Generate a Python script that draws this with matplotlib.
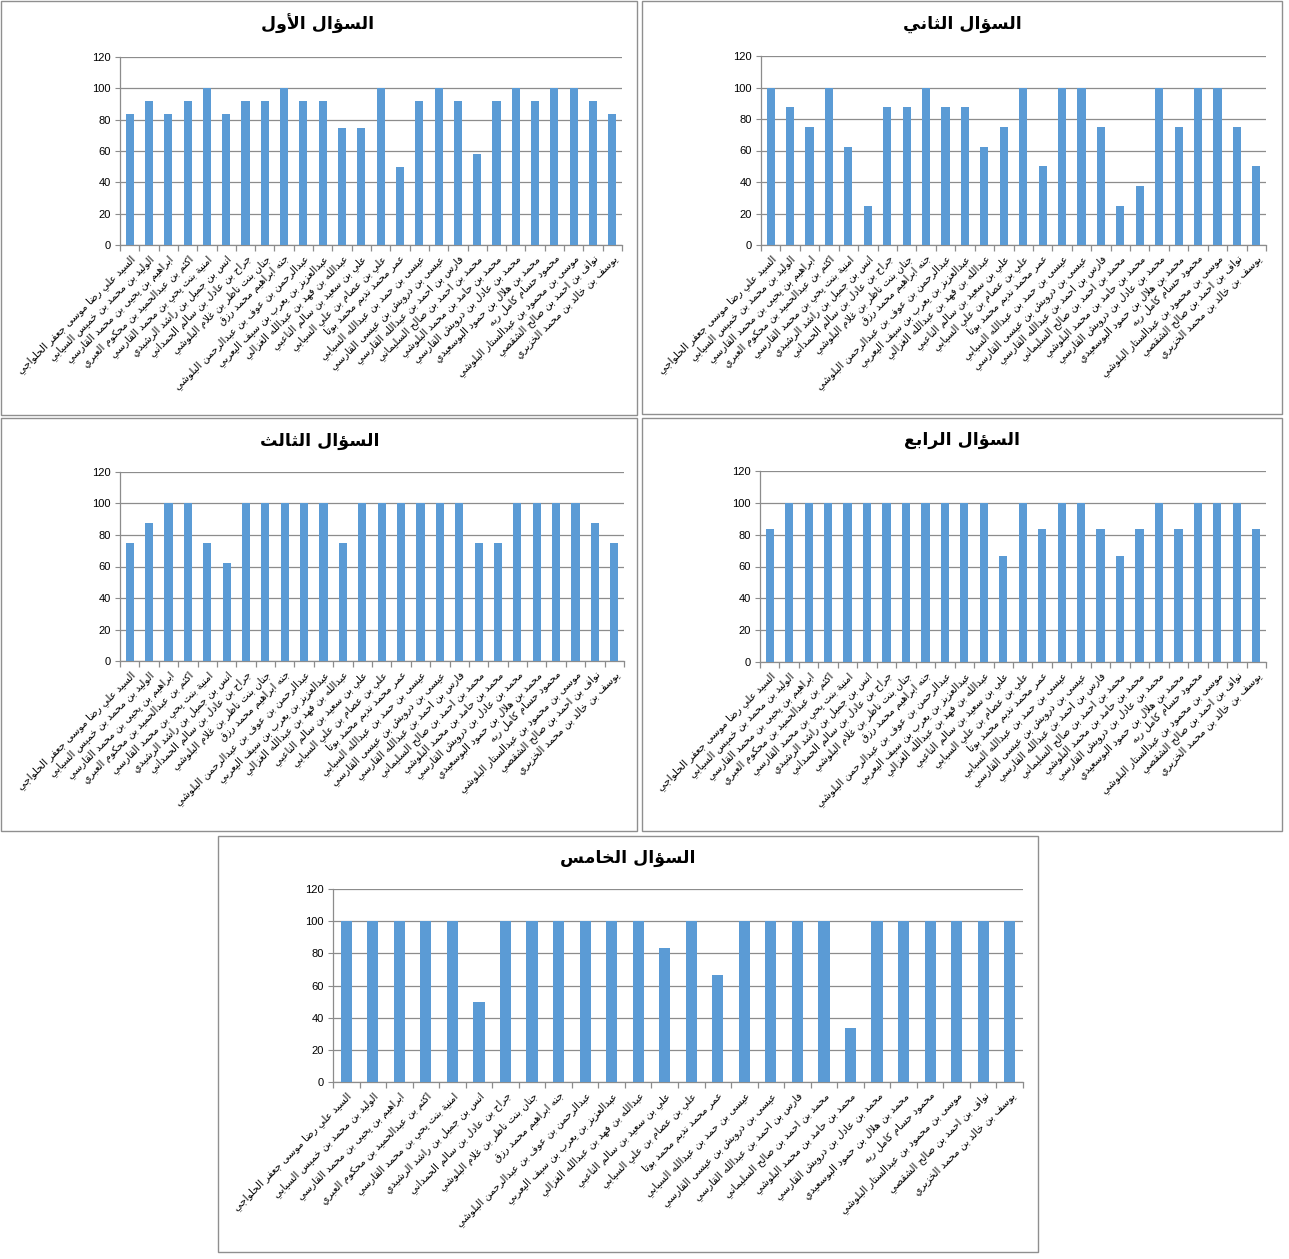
import matplotlib
matplotlib.use("Agg")
import matplotlib.pyplot as plt
from matplotlib.patches import Rectangle

# ---------------- data ----------------
students = [
    "السيد علي رضا موسى جعفر الحلواجي",
    "الوليد بن محمد بن خميس السيابي",
    "ابراهيم بن يحيى بن محمد القارسي",
    "اكثم بن عبدالحميد بن محكوم العبري",
    "امنية بنت يحي بن محمد القارسي",
    "انس بن جميل بن راشد الرشيدي",
    "جراح بن عادل بن سالم الحمداني",
    "جنان بنت ناظر بن غلام البلوشي",
    "جنه ابراهيم محمد رزق",
    "عبدالرحمن بن عوف بن عبدالرحمن البلوشي",
    "عبدالعزيز بن يعرب بن سيف اليعربي",
    "عبدالله بن فهد بن عبدالله الغزالي",
    "علي بن سعيد بن سالم الناعبي",
    "علي بن عصام بن علي السيابي",
    "عمر محمد نديم محمد بوتا",
    "عيسى بن حمد بن عبدالله السيابي",
    "عيسى بن درويش بن عيسى القارسي",
    "فارس بن احمد بن عبدالله القارسي",
    "محمد بن احمد بن صالح السليماني",
    "محمد بن حامد بن محمد البلوشي",
    "محمد بن عادل بن درويش القارسي",
    "محمد بن هلال بن حمود البوسعيدي",
    "محمود حسام كامل ربه",
    "موسى بن محمود بن عبدالستار البلوشي",
    "نواف بن احمد بن صالح الشقصي",
    "يوسف بن خالد بن محمد الخزيري",
]

titles = ["السؤال الأول", "السؤال الثاني", "السؤال الثالث", "السؤال الرابع", "السؤال الخامس"]

q1 = [83.3, 91.7, 83.3, 91.7, 100, 83.3, 91.7, 91.7, 100, 91.7, 91.7, 75, 75,
      100, 50, 91.7, 100, 91.7, 58.3, 91.7, 100, 91.7, 100, 100, 91.7, 83.3]
q2 = [100, 87.5, 75, 100, 62.5, 25, 87.5, 87.5, 100, 87.5, 87.5, 62.5, 75,
      100, 50, 100, 100, 75, 25, 37.5, 100, 75, 100, 100, 75, 50]
q3 = [75, 87.5, 100, 100, 75, 62.5, 100, 100, 100, 100, 100, 75, 100,
      100, 100, 100, 100, 100, 75, 75, 100, 100, 100, 100, 87.5, 75]
q4 = [83.3, 100, 100, 100, 100, 100, 100, 100, 100, 100, 100, 100, 66.7,
      100, 83.3, 100, 100, 83.3, 66.7, 83.3, 100, 83.3, 100, 100, 100, 83.3]
q5 = [100, 100, 100, 100, 100, 50, 100, 100, 100, 100, 100, 100, 83.3,
      100, 66.7, 100, 100, 100, 100, 33.3, 100, 100, 100, 100, 100, 100]

y_ticks = [0, 20, 40, 60, 80, 100, 120]

# ---------------- Arabic shaping (presentation forms + visual order) ----------------
DUAL = {'ئ': 0xFE89, 'ب': 0xFE8F, 'ت': 0xFE95, 'ث': 0xFE99, 'ج': 0xFE9D, 'ح': 0xFEA1,
        'خ': 0xFEA5, 'س': 0xFEB1, 'ش': 0xFEB5, 'ص': 0xFEB9, 'ض': 0xFEBD, 'ط': 0xFEC1,
        'ظ': 0xFEC5, 'ع': 0xFEC9, 'غ': 0xFECD, 'ف': 0xFED1, 'ق': 0xFED5, 'ك': 0xFED9,
        'ل': 0xFEDD, 'م': 0xFEE1, 'ن': 0xFEE5, 'ه': 0xFEE9, 'ي': 0xFEF1}
RIGHT = {'آ': 0xFE81, 'أ': 0xFE83, 'ؤ': 0xFE85, 'إ': 0xFE87, 'ا': 0xFE8D, 'ة': 0xFE93,
         'د': 0xFEA9, 'ذ': 0xFEAB, 'ر': 0xFEAD, 'ز': 0xFEAF, 'و': 0xFEED, 'ى': 0xFEEF}
LAMALEF = {'آ': 0xFEF5, 'أ': 0xFEF7, 'إ': 0xFEF9, 'ا': 0xFEFB}


def shape(s):
    toks = []
    i = 0
    while i < len(s):
        c = s[i]
        if c == 'ل' and i + 1 < len(s) and s[i + 1] in LAMALEF:
            toks.append(('LA', s[i + 1]))
            i += 2
        else:
            toks.append(('C', c))
            i += 1

    def jl(t):
        return t[0] == 'C' and t[1] in DUAL

    def jr(t):
        return t[0] == 'LA' or t[1] in DUAL or t[1] in RIGHT

    res = []
    for k, t in enumerate(toks):
        prev = toks[k - 1] if k > 0 else None
        nxt = toks[k + 1] if k + 1 < len(toks) else None
        p = prev is not None and jl(prev) and jr(t)
        q = nxt is not None and jl(t) and jr(nxt)
        if t[0] == 'LA':
            b = LAMALEF[t[1]]
            res.append(chr(b + 1 if p else b))
        elif t[1] in DUAL:
            b = DUAL[t[1]]
            res.append(chr(b + 3 if (p and q) else b + 1 if p else b + 2 if q else b))
        elif t[1] in RIGHT:
            b = RIGHT[t[1]]
            res.append(chr(b + 1 if p else b))
        else:
            res.append(t[1])
    return ''.join(reversed(res))


# ---------------- figure ----------------
W, H = 1289, 1259
fig = plt.figure(figsize=(W / 100, H / 100), dpi=100)
fig.patch.set_facecolor('white')
plt.rcParams['font.family'] = ['DejaVu Sans']

BAR = '#5B9BD5'
GRID = '#8C8C8C'

# panel frames (x0, y0, x1, y1) in px, plot areas (x0, x1, y_top, y_bottom)
frames = [(1, 1, 637, 415), (642, 1, 1282, 414), (1, 418, 637, 831),
          (642, 418, 1282, 831), (218, 836, 1038, 1252)]
plots = [(120, 622, 57, 245), (761, 1266, 56, 245), (120, 624, 472, 661),
         (760, 1266, 471, 662), (333, 1023, 889, 1082)]
title_pos = [(318, 24), (962, 24), (320, 441), (962, 440), (628, 858)]
series = [q1, q2, q3, q4, q5]

for (fx0, fy0, fx1, fy1) in frames:
    fig.patches.append(Rectangle((fx0 / W, 1 - fy1 / H), (fx1 - fx0) / W, (fy1 - fy0) / H,
                                 transform=fig.transFigure, fill=False,
                                 edgecolor='#8F8F8F', linewidth=1.0))

for idx in range(5):
    x0, x1, yt, yb = plots[idx]
    ax = fig.add_axes([x0 / W, 1 - yb / H, (x1 - x0) / W, (yb - yt) / H])
    vals = series[idx]
    n = len(students)
    xs = list(range(n))
    ax.bar(xs, vals, width=0.42, color=BAR, zorder=3)
    ax.set_xlim(-0.5, n - 0.5)
    ax.set_ylim(0, 120)
    ax.set_yticks(y_ticks)
    ax.set_yticklabels([str(v) for v in y_ticks], fontsize=8, family='Liberation Sans')
    ax.yaxis.grid(True, color=GRID, linewidth=0.9, zorder=0)
    for s in ['top', 'right']:
        ax.spines[s].set_visible(False)
    for s in ['left', 'bottom']:
        ax.spines[s].set_color(GRID)
        ax.spines[s].set_linewidth(0.9)
    ax.tick_params(axis='y', length=3.5, color=GRID, pad=3)
    ax.set_xticks(xs)
    ax.set_xticklabels([shape(s) for s in students], rotation=45, ha='right',
                       rotation_mode='anchor', fontsize=7.3)
    ax.tick_params(axis='x', which='major', length=0, pad=6)
    ax.set_xticks([i - 0.5 for i in range(n + 1)], minor=True)
    ax.tick_params(axis='x', which='minor', length=4.5, color=GRID, width=0.9)
    tx, ty = title_pos[idx]
    fig.text(tx / W, 1 - ty / H, shape(titles[idx]), ha='center', va='center',
             fontsize=12.5, fontweight='bold')

fig.savefig('out.png', dpi=100, facecolor='white')
